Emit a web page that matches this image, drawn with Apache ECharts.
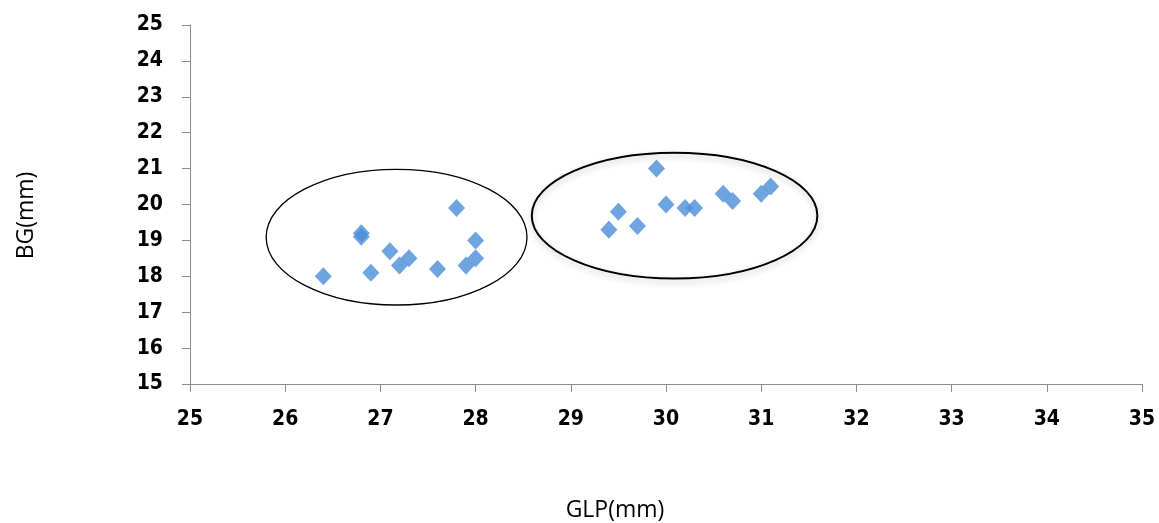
<!DOCTYPE html>
<html>
<head>
<meta charset="utf-8">
<script src="https://cdn.jsdelivr.net/npm/echarts@6/dist/echarts.min.js"></script>
<style>
  html, body { margin: 0; padding: 0; background: #fff; }
  #chart-container { width: 1159px; height: 523px; }
</style>
</head>
<body>
<div id="chart-container"></div>
<script>
// GLP (x) and BG (y) in mm
var glpLeft = [26.4, 26.8, 26.8, 26.9, 27.1, 27.2, 27.3, 27.6, 27.8, 27.9, 28.0, 28.0];
var bgLeft  = [18.0, 19.2, 19.1, 18.1, 18.7, 18.3, 18.5, 18.2, 19.9, 18.3, 18.5, 19.0];
var glpRight = [29.4, 29.5, 29.7, 29.9, 30.0, 30.2, 30.3, 30.6, 30.7, 31.0, 31.1];
var bgRight  = [19.3, 19.8, 19.4, 21.0, 20.0, 19.9, 19.9, 20.3, 20.1, 20.3, 20.5];

// group ellipses: [centre x, centre y, half width, half height] in data units
var groupLeft = [27.17, 19.09, 1.37, 1.89];
var groupRight = [30.09, 19.69, 1.5, 1.75];

var points = [];
glpLeft.forEach(function (v, i) { points.push([v, bgLeft[i]]); });
glpRight.forEach(function (v, i) { points.push([v, bgRight[i]]); });

var dom = document.getElementById('chart-container');
var myChart = echarts.init(dom, null, { renderer: 'canvas' });

var option = {
  animation: false,
  grid: { left: 190, right: 17, top: 25, bottom: 139, outerBoundsMode: 'none' },
  xAxis: {
    type: 'value',
    min: 25, max: 35, interval: 1,
    name: 'GLP(mm)',
    nameLocation: 'middle',
    nameGap: 115,
    nameTextStyle: { color: '#000', fontSize: 23, fontFamily: 'Open Sans', padding: [0, 102, 0, 0] },
    axisLine: { lineStyle: { color: '#8c8c8c', width: 1 } },
    axisTick: { show: true, length: 8, lineStyle: { color: '#8c8c8c' } },
    axisLabel: {
      margin: 25,
      color: '#000',
      fontWeight: 'bold',
      fontSize: 21,
      fontFamily: 'DejaVu Sans Condensed'
    },
    splitLine: { show: false }
  },
  yAxis: {
    type: 'value',
    min: 15, max: 25, interval: 1,
    name: 'BG(mm)',
    nameLocation: 'middle',
    nameGap: 152,
    nameTextStyle: { color: '#000', fontSize: 23, fontFamily: 'Open Sans', padding: [0, 22, 0, 0] },
    axisLine: { show: true, lineStyle: { color: '#8c8c8c', width: 1 } },
    axisTick: { show: true, length: 8, lineStyle: { color: '#8c8c8c' } },
    axisLabel: {
      margin: 27,
      color: '#000',
      fontWeight: 'bold',
      fontSize: 21,
      fontFamily: 'DejaVu Sans Condensed'
    },
    splitLine: { show: false }
  },
  series: [{
    type: 'scatter',
    symbol: 'diamond',
    symbolSize: [17, 18],
    itemStyle: { color: '#4a8fd8' },
    data: points
  }]
};

myChart.setOption(option);

function ellipse(g, lineWidth, shadow) {
  var c = myChart.convertToPixel({ gridIndex: 0 }, [g[0], g[1]]);
  var e = myChart.convertToPixel({ gridIndex: 0 }, [g[0] + g[2], g[1] + g[3]]);
  return {
    type: 'ellipse',
    silent: true,
    z: 1,
    shape: { cx: c[0], cy: c[1], rx: Math.abs(e[0] - c[0]), ry: Math.abs(c[1] - e[1]) },
    style: {
      fill: null,
      stroke: '#000',
      lineWidth: lineWidth,
      shadowBlur: shadow ? 6 : 0,
      shadowOffsetY: shadow ? 3 : 0,
      shadowColor: shadow ? 'rgba(0,0,0,0.25)' : 'transparent'
    }
  };
}

myChart.setOption({
  graphic: [ellipse(groupLeft, 1.3, false), ellipse(groupRight, 2, true)]
});

window.addEventListener('resize', myChart.resize);
</script>
</body>
</html>
